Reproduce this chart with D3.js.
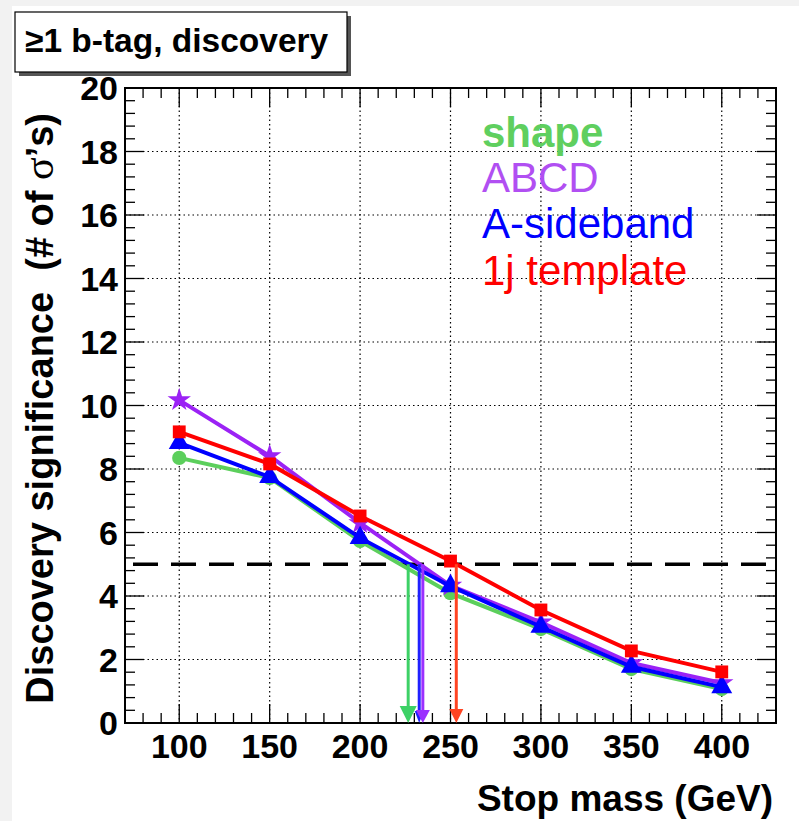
<!DOCTYPE html>
<html><head><meta charset="utf-8">
<script src="https://cdn.jsdelivr.net/npm/d3@7"></script>
<style>body{margin:0;background:#f2f2f2;} svg{display:block;}</style>
</head><body>
<svg id="c" width="799" height="821"></svg>
<script>
const masses = [100, 150, 200, 250, 300, 350, 400];
const shapeVals = [8.35, 7.72, 5.73, 4.09, 2.96, 1.70, 1.07];
const abcdVals = [10.17, 8.41, 6.30, 4.33, 3.17, 1.89, 1.26];
const sidebandVals = [8.82, 7.75, 5.83, 4.31, 3.03, 1.77, 1.13];
const templateVals = [9.17, 8.16, 6.52, 5.10, 3.56, 2.27, 1.61];
const crossings = [226.6, 232.7, 234.7, 253.2]; // shape, A-sideband, ABCD, 1j template
const seriesNames = ["shape", "ABCD", "A-sideband", "1j template"];
const xTicks = [100, 150, 200, 250, 300, 350, 400];
const yTicks = [0, 2, 4, 6, 8, 10, 12, 14, 16, 18, 20];
const threshold = 5;

const svg = d3.select("#c");
const L = 125, R = 776, T = 88, B = 723;
const x = d3.scaleLinear().domain([70, 430]).range([L, R]);
const y = d3.scaleLinear().domain([0, 20]).range([B, T]);

svg.append("rect").attr("x", 12).attr("y", 6).attr("width", 799).attr("height", 821).attr("fill", "#fff");

// grid
const grid = svg.append("g").attr("stroke", "#000").attr("stroke-width", 1.2).attr("stroke-dasharray", "1.5,3");
xTicks.forEach(t => grid.append("line").attr("x1", x(t)).attr("x2", x(t)).attr("y1", T).attr("y2", B));
yTicks.filter(t => t > 0 && t < 20).forEach(t => grid.append("line").attr("x1", L).attr("x2", R).attr("y1", y(t)).attr("y2", y(t)));

// axes with inner ticks (ROOT style)
const xMinor = d3.range(70, 431, 10);
const yMinor = d3.range(0, 20.01, 0.4);
const ax = svg.append("g").attr("stroke", "#000").attr("stroke-width", 1.3);
xMinor.forEach(t => {
  const len = (t % 50 === 0) ? 19 : 10;
  ax.append("line").attr("x1", x(t)).attr("x2", x(t)).attr("y1", B).attr("y2", B - len);
  ax.append("line").attr("x1", x(t)).attr("x2", x(t)).attr("y1", T).attr("y2", T + len);
});
yMinor.forEach(t => {
  const major = Math.abs(t / 2 - Math.round(t / 2)) < 1e-6;
  const len = major ? 19 : 10;
  ax.append("line").attr("x1", L).attr("x2", L + len).attr("y1", y(t)).attr("y2", y(t));
  ax.append("line").attr("x1", R).attr("x2", R - len).attr("y1", y(t)).attr("y2", y(t));
});
svg.append("rect").attr("x", L).attr("y", T).attr("width", R - L).attr("height", B - T)
  .attr("fill", "none").attr("stroke", "#000").attr("stroke-width", 2);

const font = "'Liberation Sans', Arial, Helvetica, sans-serif";
// tick labels
svg.append("g").selectAll("text").data(xTicks).join("text")
  .attr("x", d => x(d)).attr("y", 758).attr("text-anchor", "middle")
  .attr("font-family", font).attr("font-weight", "bold").attr("font-size", 34).text(d => d);
svg.append("g").selectAll("text").data(yTicks).join("text")
  .attr("x", 118).attr("y", d => y(d) + 12).attr("text-anchor", "end")
  .attr("font-family", font).attr("font-weight", "bold").attr("font-size", 34).text(d => d);

// axis titles
svg.append("text").attr("x", 773).attr("y", 811).attr("text-anchor", "end")
  .attr("font-family", font).attr("font-weight", "bold").attr("font-size", 37).text("Stop mass (GeV)");
const yt = svg.append("text").attr("transform", "translate(53,113) rotate(-90)").attr("text-anchor", "end")
  .attr("font-family", font).attr("font-weight", "bold").attr("font-size", 38);
yt.append("tspan").text("Discovery significance\u00a0\u00a0(# of ");
yt.append("tspan").attr("font-family", "'Liberation Serif', serif").attr("font-weight", "normal").attr("font-size", 42).text("σ");
yt.append("tspan").text("’s)");

// threshold dashed line
svg.append("line").attr("x1", L).attr("x2", R).attr("y1", y(threshold)).attr("y2", y(threshold))
  .attr("stroke", "#000").attr("stroke-width", 3.5).attr("stroke-dasharray", "25,13").attr("stroke-dashoffset", -8);

const lineColors = ["#5ccf5c", "#9b22f5", "#0000ff", "#ff0000"];
const allVals = [shapeVals, abcdVals, sidebandVals, templateVals];
const symbols = [d3.symbolCircle, d3.symbolStar, d3.symbolTriangle, d3.symbolSquare];
const symSizes = [160, 170, 190, 165];
const line = d3.line().x(d => x(d[0])).y(d => y(d[1]));
allVals.forEach((vals, i) => {
  const pts = masses.map((m, j) => [m, vals[j]]);
  svg.append("path").attr("d", line(pts)).attr("fill", "none").attr("stroke", lineColors[i]).attr("stroke-width", 4);
  svg.append("g").selectAll("path").data(pts).join("path")
    .attr("transform", d => `translate(${x(d[0])},${y(d[1])})`)
    .attr("d", d3.symbol().type(symbols[i]).size(symSizes[i])).attr("fill", lineColors[i]);
});

// arrows
const arrowColors = ["#3dd166", "#2020ff", "#9b30ff", "#ff4422"];
const arrowW = [17, 9, 14, 14];
const arrowH = [17, 12, 13, 14];
crossings.forEach((c, i) => {
  const cx = x(c);
  svg.append("line").attr("x1", cx).attr("x2", cx).attr("y1", y(threshold)).attr("y2", B - arrowH[i])
    .attr("stroke", arrowColors[i]).attr("stroke-width", 3);
  svg.append("path").attr("d", `M${cx - arrowW[i] / 2},${B - arrowH[i]}L${cx + arrowW[i] / 2},${B - arrowH[i]}L${cx},${B}Z`)
    .attr("fill", arrowColors[i]);
});

// legend
const legColors = ["#5fcf5f", "#b14ff2", "#0000ff", "#ff0000"];
const legWeights = ["bold", "normal", "normal", "normal"];
const legY = [147, 192, 238, 285];
seriesNames.forEach((n, i) => {
  svg.append("text").attr("x", 482).attr("y", legY[i]).attr("font-family", font)
    .attr("font-weight", legWeights[i]).attr("font-size", 42).attr("fill", legColors[i]).text(n);
});

// title box
svg.append("rect").attr("x", 19).attr("y", 16).attr("width", 332).attr("height", 60).attr("fill", "#555");
svg.append("rect").attr("x", 15).attr("y", 12).attr("width", 332).attr("height", 60).attr("fill", "#fff")
  .attr("stroke", "#000").attr("stroke-width", 1.2);
svg.append("text").attr("x", 25).attr("y", 52).attr("font-family", font).attr("font-weight", "bold")
  .attr("font-size", 33.5).text("≥1 b-tag, discovery");
</script>
</body></html>
